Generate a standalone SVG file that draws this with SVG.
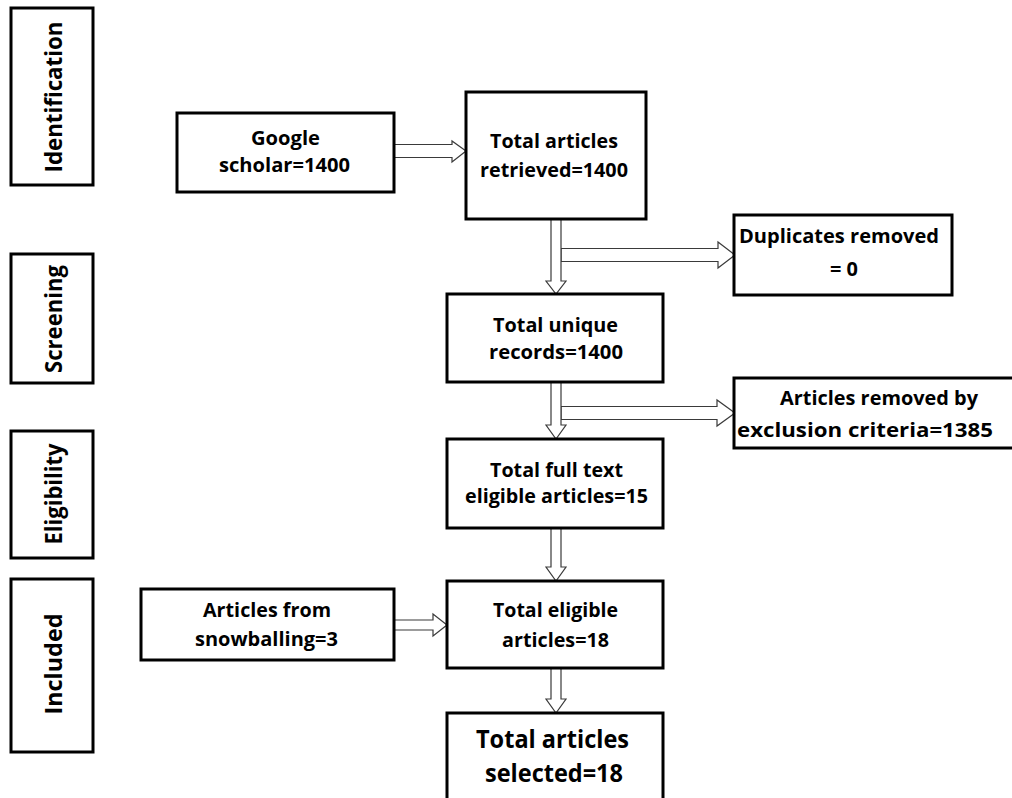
<svg xmlns="http://www.w3.org/2000/svg" width="1012" height="798" viewBox="0 0 1012 798">
<style>
.box{fill:#fff;stroke:#000;stroke-width:3}
.arr{fill:#fff;stroke:#3a3a3a;stroke-width:1.2;stroke-linejoin:miter}
.t{font-family:"Open Sans","Noto Sans","Liberation Sans",sans-serif;font-weight:700;font-size:20px;fill:#000;text-anchor:middle}
.big{font-size:25px}
.lane{font-size:24px}
</style>
<rect width="1012" height="798" fill="#fff"/>
<g id="connectors">
<polygon class="arr" points="394,144.5 452,144.5 452,141 466,151 452,162 452,157.5 394,157.5"/>
<polygon class="arr" points="561,248.5 718,248.5 718,242 735,255 718,268 718,261.5 561,261.5"/>
<polygon class="arr" points="551,219 561,219 561,281 566,281 556,294 546,281 551,281"/>
<polygon class="arr" points="561,406.5 717,406.5 717,400 735,413 717,426 717,419.5 561,419.5"/>
<polygon class="arr" points="551,382 561,382 561,425 566,425 556,439 546,425 551,425"/>
<polygon class="arr" points="551,528 561,528 561,567 566,567 556,581 546,567 551,567"/>
<polygon class="arr" points="551,668 561,668 561,699 566,699 556,713 546,699 551,699"/>
<polygon class="arr" points="394,620 433,620 433,614 447,625 433,636 433,630 394,630"/>
</g>
<g id="lane-identification">
<rect class="box" x="11" y="8" width="82" height="177"/>
<text class="t lane" transform="translate(62,97) rotate(-90)" textLength="151" lengthAdjust="spacingAndGlyphs">Identification</text>
</g>
<g id="lane-screening">
<rect class="box" x="11" y="254" width="82" height="129"/>
<text class="t lane" transform="translate(62,319) rotate(-90)" textLength="108" lengthAdjust="spacingAndGlyphs">Screening</text>
</g>
<g id="lane-eligibility">
<rect class="box" x="11" y="431" width="82" height="127"/>
<text class="t lane" transform="translate(62,494) rotate(-90)" textLength="101" lengthAdjust="spacingAndGlyphs">Eligibility</text>
</g>
<g id="lane-included">
<rect class="box" x="11" y="579" width="82" height="173"/>
<text class="t lane" transform="translate(62,664) rotate(-90)" textLength="101" lengthAdjust="spacingAndGlyphs">Included</text>
</g>
<g id="google">
<rect class="box" x="177" y="113" width="217" height="79"/>
<text class="t" x="285.5" y="145" textLength="69" lengthAdjust="spacingAndGlyphs">Google</text>
<text class="t" x="284.5" y="172" textLength="131" lengthAdjust="spacingAndGlyphs">scholar=1400</text>
</g>
<g id="retrieved">
<rect class="box" x="466" y="92" width="180" height="127"/>
<text class="t" x="554" y="148" textLength="128" lengthAdjust="spacingAndGlyphs">Total articles</text>
<text class="t" x="554" y="177" textLength="148" lengthAdjust="spacingAndGlyphs">retrieved=1400</text>
</g>
<g id="duplicates">
<rect class="box" x="734" y="215" width="218" height="80"/>
<text class="t" x="839" y="243" textLength="200" lengthAdjust="spacingAndGlyphs">Duplicates removed</text>
<text class="t" x="844" y="276" textLength="28" lengthAdjust="spacingAndGlyphs">= 0</text>
</g>
<g id="unique">
<rect class="box" x="447" y="294" width="216" height="88"/>
<text class="t" x="555.5" y="332" textLength="125" lengthAdjust="spacingAndGlyphs">Total unique</text>
<text class="t" x="556" y="359" textLength="134" lengthAdjust="spacingAndGlyphs">records=1400</text>
</g>
<g id="removed">
<rect class="box" x="734" y="378" width="282" height="70"/>
<text class="t" x="879" y="405" textLength="198" lengthAdjust="spacingAndGlyphs">Articles removed by</text>
<text class="t" x="865" y="437" textLength="256" lengthAdjust="spacingAndGlyphs">exclusion criteria=1385</text>
</g>
<g id="fulltext">
<rect class="box" x="447" y="439" width="216" height="89"/>
<text class="t" x="556.5" y="477" textLength="133" lengthAdjust="spacingAndGlyphs">Total full text</text>
<text class="t" x="556.5" y="503" textLength="183" lengthAdjust="spacingAndGlyphs">eligible articles=15</text>
</g>
<g id="snowballing">
<rect class="box" x="141" y="589" width="253" height="71"/>
<text class="t" x="267" y="617" textLength="128" lengthAdjust="spacingAndGlyphs">Articles from</text>
<text class="t" x="266.5" y="646" textLength="143" lengthAdjust="spacingAndGlyphs">snowballing=3</text>
</g>
<g id="eligible">
<rect class="box" x="447" y="581" width="216" height="87"/>
<text class="t" x="555.5" y="617" textLength="125" lengthAdjust="spacingAndGlyphs">Total eligible</text>
<text class="t" x="555.5" y="647" textLength="107" lengthAdjust="spacingAndGlyphs">articles=18</text>
</g>
<g id="selected">
<rect class="box" x="447" y="713" width="216" height="100"/>
<text class="t big" x="552.5" y="748" textLength="153" lengthAdjust="spacingAndGlyphs">Total articles</text>
<text class="t big" x="554" y="782" textLength="138" lengthAdjust="spacingAndGlyphs">selected=18</text>
</g>
</svg>
